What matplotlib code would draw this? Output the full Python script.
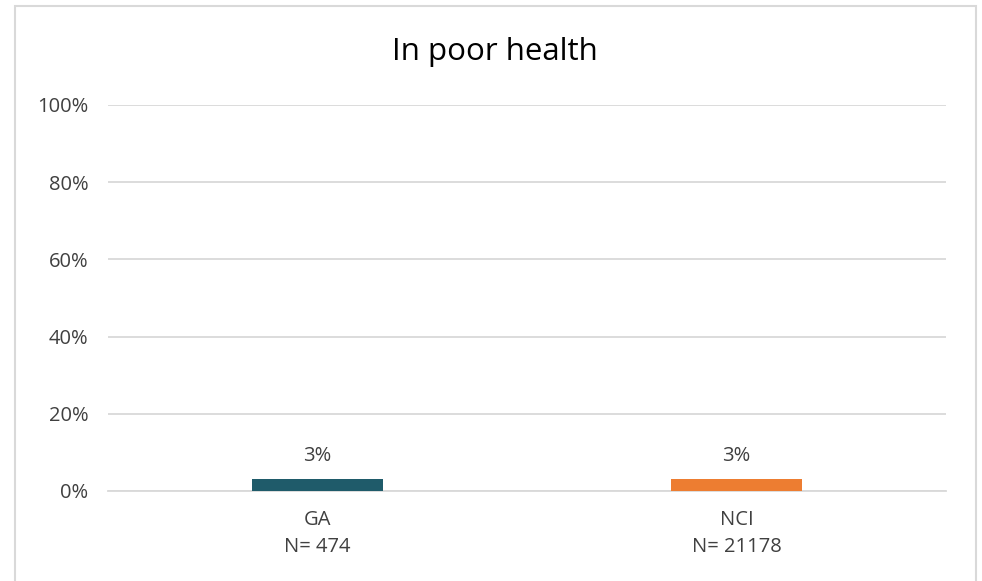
import matplotlib.pyplot as plt
from matplotlib.patches import Rectangle
from matplotlib.ticker import PercentFormatter

categories = ['GA\nN= 474', 'NCI\nN= 21178']
values = [0.03, 0.03]
labels = ['3%', '3%']
colors = ['#1F5B6A', '#ED7D31']
yticks = [0, 0.2, 0.4, 0.6, 0.8, 1.0]

plt.rcParams['font.family'] = ['Open Sans', 'DejaVu Sans']
text_color = '#404040'

fig = plt.figure(figsize=(9.82, 5.81), dpi=100)
ax = fig.add_axes([108/982, 1 - 491/581, 838/982, 386/581])

x = range(len(categories))
bars = ax.bar(x, values, width=0.313, color=colors, zorder=3)
for bar, lab in zip(bars, labels):
    ax.text(bar.get_x() + bar.get_width()/2, bar.get_height() + 0.035, lab,
            ha='center', va='bottom', fontsize=14.5, color=text_color)

ax.set_xlim(-0.5, 1.5)
ax.set_ylim(0, 1.0)
ax.set_yticks(yticks)
ax.yaxis.set_major_formatter(PercentFormatter(1.0, decimals=0))
ax.set_xticks(list(x))
ax.set_xticklabels(categories, linespacing=1.45)
ax.tick_params(axis='both', length=0, labelsize=14.5, labelcolor=text_color)
ax.tick_params(axis='y', pad=14)
ax.tick_params(axis='x', pad=14)
ax.grid(axis='y', color='#D9D9D9', linewidth=1.3, zorder=0)
for s in ['top', 'right', 'left']:
    ax.spines[s].set_visible(False)
ax.spines['bottom'].set_color('#D9D9D9')
ax.spines['bottom'].set_linewidth(1.3)

fig.text(495/982, 1 - 52/581, 'In poor health', ha='center', va='center',
         fontsize=22.5, color='black')

# chart frame
fig.patches.append(Rectangle((15/982, -0.05), 961/982, 1.05 - 6/581,
                             transform=fig.transFigure, fill=False,
                             edgecolor='#D9D9D9', linewidth=1.5))

fig.savefig('out.png', dpi=100)
